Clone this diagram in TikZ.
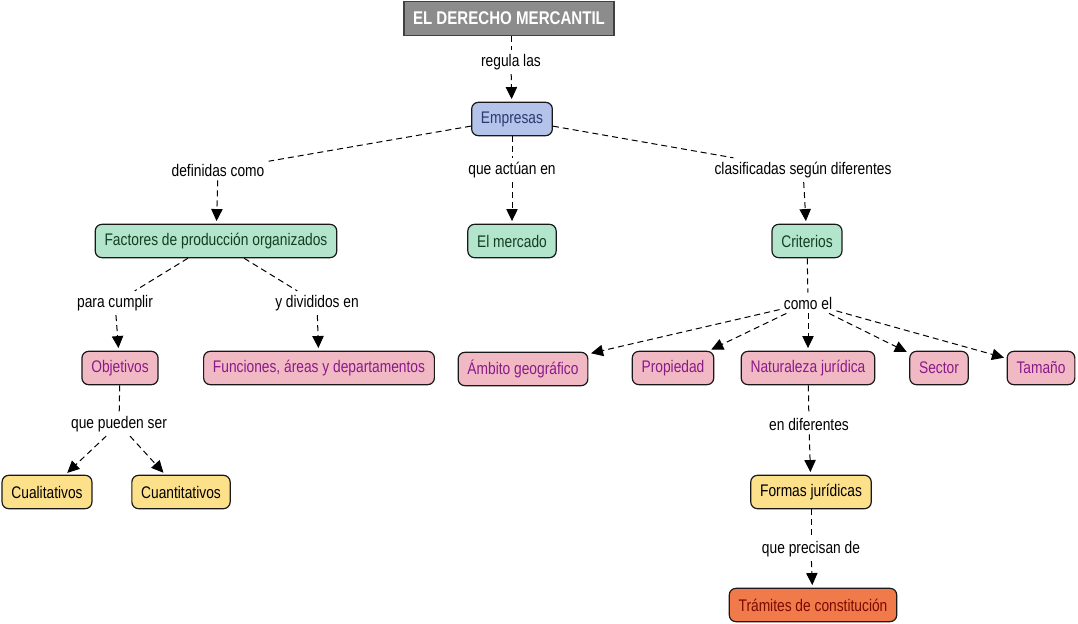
\documentclass[tikz,border=0pt]{standalone}
\usepackage{fontspec}
\setmainfont{Liberation Sans}[FakeStretch=0.82]
\usetikzlibrary{arrows.meta}

\definecolor{titlegray}{HTML}{8C8C8C}
\definecolor{bluefill}{HTML}{B4C3EA}
\definecolor{bluetext}{HTML}{2B3A6E}
\definecolor{greenfill}{HTML}{B3E5CC}
\definecolor{greentext}{HTML}{123F22}
\definecolor{pinkfill}{HTML}{F1B9C4}
\definecolor{pinktext}{HTML}{8A1A8A}
\definecolor{yellowfill}{HTML}{FDE08A}
\definecolor{orangefill}{HTML}{F07A4A}
\definecolor{orangetext}{HTML}{7A0A00}

\tikzset{
  box/.style={draw=black!90, line width=0.9pt, rounded corners=5pt,
    minimum height=25pt, inner xsep=7pt,
    font=\fontsize{12.6}{14}\selectfont},
  bluebox/.style={box, fill=bluefill, text=bluetext},
  greenbox/.style={box, fill=greenfill, text=greentext},
  pinkbox/.style={box, fill=pinkfill, text=pinktext},
  yellowbox/.style={box, fill=yellowfill, text=black},
  orangebox/.style={box, fill=orangefill, text=orangetext},
  linkword/.style={inner sep=3pt, font=\fontsize{12.6}{14}\selectfont},
  link/.style={dashed, dash pattern=on 4.5pt off 3pt, line width=0.75pt},
  linkarrow/.style={link, -{Triangle[length=9pt,width=8.5pt]}, shorten >=2pt}
}

\begin{document}
\begin{tikzpicture}[x=0.75pt,y=-0.75pt]
  \useasboundingbox (0,0) rectangle (1078,624);

  \node[draw=black!75, line width=0.9pt, fill=titlegray, text=white,
    minimum width=157.5pt, minimum height=25pt,
    font=\bfseries\fontsize{13.8}{15}\selectfont] (titulo) at (509,18.5) {EL DERECHO MERCANTIL};
  \node[linkword] (regula) at (511,62) {regula las};
  \node[bluebox] (empresas) at (512,119) {Empresas};

  \node[linkword] (definidas) at (218,170) {definidas como};
  \node[linkword] (actuan) at (512,170) {que actúan en};
  \node[linkword] (clasificadas) at (803,170) {clasificadas según diferentes};

  \node[greenbox] (factores) at (216,241) {Factores de producción organizados};
  \node[greenbox] (mercado) at (512,241) {El mercado};
  \node[greenbox] (criterios) at (807,241) {Criterios};

  \node[linkword] (cumplir) at (115,303) {para cumplir};
  \node[linkword] (divididos) at (317,303) {y divididos en};
  \node[linkword] (comoel) at (808,303) {como el};

  \node[pinkbox] (objetivos) at (120,368) {Objetivos};
  \node[pinkbox] (funciones) at (319,368) {Funciones, áreas y departamentos};
  \node[pinkbox] (ambito) at (523,369) {Ámbito geográfico};
  \node[pinkbox] (propiedad) at (673,368) {Propiedad};
  \node[pinkbox] (naturaleza) at (808,368) {Naturaleza jurídica};
  \node[pinkbox] (sector) at (939,368) {Sector};
  \node[pinkbox] (tamano) at (1041,368) {Tamaño};

  \node[linkword] (pueden) at (119,424) {que pueden ser};
  \node[linkword] (diferentes) at (809,424) {en diferentes};

  \node[yellowbox] (cualitativos) at (47,492) {Cualitativos};
  \node[yellowbox] (cuantitativos) at (181,492) {Cuantitativos};
  \node[yellowbox] (formas) at (811,492) {Formas jurídicas};

  \node[linkword] (precisan) at (811,549) {que precisan de};
  \node[orangebox] (tramites) at (813,605) {Trámites de constitución};

  \draw[link] (titulo.south -| regula) -- (regula);
  \draw[linkarrow] (regula) -- (empresas);

  \draw[link] (empresas) -- (definidas);
  \draw[link] (empresas) -- (actuan);
  \draw[link] (empresas) -- (clasificadas);
  \draw[linkarrow] (definidas) -- (factores);
  \draw[linkarrow] (actuan) -- (mercado);
  \draw[linkarrow] (clasificadas) -- (criterios);

  \draw[link] (factores) -- (cumplir);
  \draw[link] (factores) -- (divididos);
  \draw[linkarrow] (cumplir) -- (objetivos);
  \draw[linkarrow] (divididos) -- (funciones);

  \draw[link] (criterios) -- (comoel);
  \draw[linkarrow] (comoel) -- (ambito);
  \draw[linkarrow] (comoel) -- (propiedad);
  \draw[linkarrow] (comoel) -- (naturaleza);
  \draw[linkarrow] (comoel) -- (sector);
  \draw[linkarrow] (comoel) -- (tamano);

  \draw[link] (objetivos) -- (pueden);
  \draw[linkarrow] (pueden) -- (cualitativos);
  \draw[linkarrow] (pueden) -- (cuantitativos);

  \draw[link] (naturaleza) -- (diferentes);
  \draw[linkarrow] (diferentes) -- (formas);
  \draw[link] (formas) -- (precisan);
  \draw[linkarrow] (precisan) -- (tramites);
\end{tikzpicture}
\end{document}
